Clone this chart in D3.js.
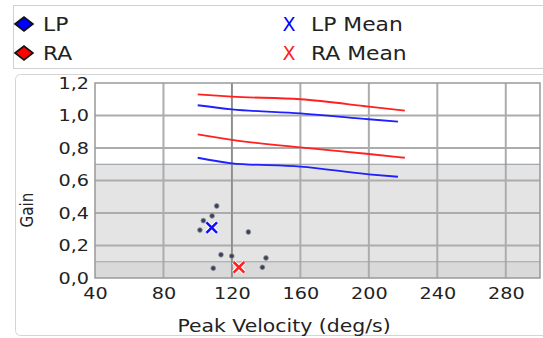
<!DOCTYPE html>
<html>
<head>
<meta charset="utf-8">
<script src="https://cdn.jsdelivr.net/npm/d3@7"></script>
<style>
  body { margin: 0; background: #fff; }
  svg { font-family: "DejaVu Sans", Verdana, sans-serif; }
</style>
</head>
<body>
<div id="chart"></div>
<script>
const xTicks = [40, 80, 120, 160, 200, 240, 280];
const yTicks = [0, 0.2, 0.4, 0.6, 0.8, 1.0, 1.2];

// limit lines (velocity, gain)
const lpUpper = [[100, 1.063], [120, 1.038], [160, 1.013], [200, 0.977], [217, 0.962]];
const lpLower = [[100, 0.74], [120, 0.706], [160, 0.685], [200, 0.638], [217, 0.623]];
const raUpper = [[100, 1.13], [120, 1.116], [160, 1.10], [200, 1.055], [221, 1.03]];
const raLower = [[100, 0.884], [120, 0.85], [160, 0.804], [200, 0.763], [221, 0.74]];

// individual saccades
const points = [
    [111.1, 0.443], [108.4, 0.382], [103.3, 0.353], [101.3, 0.295],
    [129.6, 0.283], [113.6, 0.143], [119.9, 0.135], [109.1, 0.06],
    [139.9, 0.123], [137.8, 0.066]
];
const lpMean = [108.2, 0.31];
const raMean = [124.1, 0.066];

const shadeTop = 0.7;
const shadeLow = 0.1;
const refX = 120;

const svg = d3.select("#chart").append("svg")
    .attr("width", 543).attr("height", 338);

// text is drawn a bit wider than the font, like the original
function label(g, x, y, size, str, anchor, sx) {
    return g.append("text")
        .attr("transform", `translate(${x},${y}) scale(${sx || 1.15},1)`)
        .attr("text-anchor", anchor || "start")
        .style("font-size", size + "px").attr("fill", "#222").text(str);
}

// legend box
svg.append("rect").attr("x", 13.5).attr("y", 5.5).attr("width", 540).attr("height", 63)
    .attr("fill", "#fff").attr("stroke", "#d0d0d0");

const legend = [
    { label: "LP", type: "diamond", color: "#0000ff", x: 24, y: 24 },
    { label: "RA", type: "diamond", color: "#ff0000", x: 24, y: 53 },
    { label: "LP Mean", type: "x", color: "#0000ff", x: 289, y: 24 },
    { label: "RA Mean", type: "x", color: "#ff2020", x: 289, y: 53 }
];
legend.forEach(d => {
    if (d.type == "diamond") {
        svg.append("path").attr("d", "M-9,0L0,-7L9,0L0,7Z")
            .attr("transform", `translate(${d.x},${d.y})`)
            .attr("fill", d.color).attr("stroke", "#111").attr("stroke-width", 1.6);
        label(svg, 43, d.y + 7, 19, d.label);
    } else {
        svg.append("text").attr("x", d.x).attr("y", d.y + 7).attr("text-anchor", "middle")
            .style("font-size", "19px").attr("fill", d.color).text("X");
        label(svg, 311, d.y + 7, 19, d.label);
    }
});

// chart panel
svg.append("rect").attr("x", 15.5).attr("y", 74.5).attr("width", 540).attr("height", 261)
    .attr("rx", 5).attr("fill", "#fff").attr("stroke", "#d4d4d4");

const x = d3.scaleLinear().domain([40, 300]).range([95, 540]);
const y = d3.scaleLinear().domain([0, 1.2]).range([278, 83]);

const plot = svg.append("g");
plot.append("rect").attr("x", x(40)).attr("y", y(shadeTop))
    .attr("width", x(300) - x(40)).attr("height", y(0) - y(shadeTop)).attr("fill", "#e4e4e4");
plot.append("rect").attr("x", x(40)).attr("y", y(shadeLow))
    .attr("width", x(300) - x(40)).attr("height", y(0) - y(shadeLow)).attr("fill", "#d9d9d9");

// grid
plot.selectAll(".vg").data(xTicks.slice(1)).join("line")
    .attr("x1", d => x(d)).attr("x2", d => x(d)).attr("y1", y(1.2)).attr("y2", y(0))
    .attr("stroke", "#acacac").attr("stroke-width", 2);
plot.selectAll(".hg").data(yTicks.slice(1, -1)).join("line")
    .attr("x1", x(40)).attr("x2", x(300)).attr("y1", d => y(d)).attr("y2", d => y(d))
    .attr("stroke", "#acacac").attr("stroke-width", 2);
plot.append("line").attr("x1", x(40)).attr("x2", x(300)).attr("y1", y(shadeTop)).attr("y2", y(shadeTop))
    .attr("stroke", "#8c949c").attr("stroke-width", 1.2);
plot.append("line").attr("x1", x(40)).attr("x2", x(300)).attr("y1", y(shadeLow)).attr("y2", y(shadeLow))
    .attr("stroke", "#9aa6b2").attr("stroke-width", 1.2);
plot.append("line").attr("x1", x(refX)).attr("x2", x(refX)).attr("y1", y(1.2)).attr("y2", y(0))
    .attr("stroke", "#777").attr("stroke-width", 1);
plot.append("rect").attr("x", x(40)).attr("y", y(1.2))
    .attr("width", x(300) - x(40)).attr("height", y(0) - y(1.2))
    .attr("fill", "none").attr("stroke", "#999").attr("stroke-width", 1.5);

// limit lines
const line = d3.line().x(d => x(d[0])).y(d => y(d[1])).curve(d3.curveMonotoneX);
[[raUpper, "#ff2020"], [lpUpper, "#1f1fff"], [raLower, "#ff2020"], [lpLower, "#1f1fff"]].forEach(([data, c]) => {
    plot.append("path").datum(data).attr("d", line)
        .attr("fill", "none").attr("stroke", c).attr("stroke-width", 1.8);
});

// points
plot.selectAll(".pt").data(points).join("circle")
    .attr("cx", d => x(d[0])).attr("cy", d => y(d[1])).attr("r", 2.4)
    .attr("fill", "#3c4250").attr("stroke", "#8a90a0").attr("stroke-width", 0.8);

// means
const cross = d3.symbol(d3.symbolX, 75);
[[lpMean, "#1010ff"], [raMean, "#ff2020"]].forEach(([d, c]) => {
    plot.append("path").attr("d", cross())
        .attr("transform", `translate(${x(d[0])},${y(d[1])})`)
        .attr("stroke", "#fff").attr("stroke-width", 4.5).attr("fill", "none");
    plot.append("path").attr("d", cross())
        .attr("transform", `translate(${x(d[0])},${y(d[1])})`)
        .attr("stroke", c).attr("stroke-width", 2.6).attr("fill", "none");
});

// axes
const xAxis = svg.append("g").attr("transform", `translate(0,${y(0)})`)
    .call(d3.axisBottom(x).tickValues(xTicks).tickSize(0).tickPadding(10))
    .attr("font-size", 16).attr("font-family", null);
xAxis.select(".domain").remove();
xAxis.selectAll(".tick text").attr("fill", "#222").attr("transform", "scale(1.2,1)");

const yAxis = svg.append("g").attr("transform", `translate(${x(40)},0)`)
    .call(d3.axisLeft(y).tickValues(yTicks).tickSize(0).tickPadding(5)
        .tickFormat(d => d3.format(".1f")(d).replace(".", ",")))
    .attr("font-size", 16).attr("font-family", null);
yAxis.select(".domain").remove();
yAxis.selectAll(".tick text").attr("fill", "#222").attr("transform", "scale(1.2,1)");

label(svg, 284, 332, 17, "Peak Velocity (deg/s)", "middle", 1.2);
svg.append("text").attr("transform", `translate(33,210) rotate(-90) scale(0.95,1.15)`)
    .attr("text-anchor", "middle").style("font-size", "16px").attr("fill", "#222").text("Gain");
</script>
</body>
</html>
